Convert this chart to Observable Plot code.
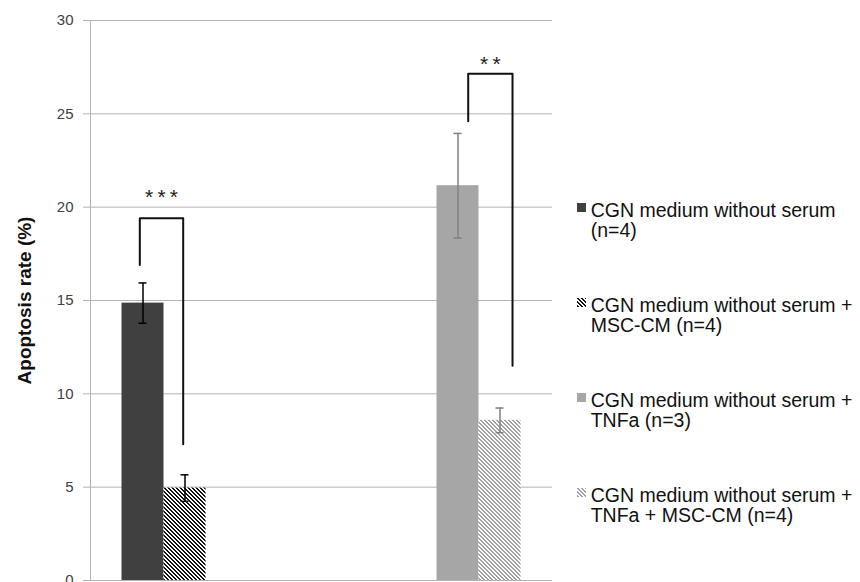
<!DOCTYPE html>
<html><head><meta charset="utf-8">
<script src="https://cdn.jsdelivr.net/npm/d3@7"></script>
<script src="https://cdn.jsdelivr.net/npm/@observablehq/plot@0.6"></script>
<style>
body{margin:0;background:#fff;}
#wrap{position:relative;width:860px;height:582px;overflow:hidden;font-family:"Liberation Sans",Arial,sans-serif;}
#chart{position:absolute;left:0;top:0;}
#legend{position:absolute;left:577px;top:200px;}
.item{position:relative;height:40px;margin-bottom:55px;padding-left:13.7px;font-size:19.5px;line-height:20px;color:#111;white-space:pre;}
.item svg{position:absolute;left:0;top:3px;}
</style></head><body>
<div id="wrap"><div id="chart"></div><div id="legend"></div></div>
<script>
// ---- data ----
const series = [
  "CGN medium without serum\n(n=4)",
  "CGN medium without serum +\nMSC-CM (n=4)",
  "CGN medium without serum +\nTNFa (n=3)",
  "CGN medium without serum +\nTNFa + MSC-CM (n=4)"
];
const groups = [0, 0, 1, 1];          // condition block each bar belongs to
const slots = [0, 1, 2, 3];           // series index within a block
const means = [14.86, 4.95, 21.15, 8.58];
const errors = [1.08, 0.71, 2.8, 0.66];
const yTicks = [0, 5, 10, 15, 20, 25, 30];
const yLabel = "Apoptosis rate (%)";
// significance brackets
const bracketGroup = [0, 1];
const bracketFrom = [0, 2];
const bracketTo = [1, 3];
const bracketTop = [19.4, 27.15];
const bracketLeftEnd = [16.9, 24.6];
const bracketRightEnd = [7.3, 11.5];
const starLabels = ["***", "**"];
const starLevel = [20.75, 27.9];

// ---- styles / layout ----
const fills = ["#404040", "url(#hatchDark)", "#a6a6a6", "url(#hatchLight)"];
const errColors = ["#000", "#000", "#808080", "#808080"];
const legNudge = [[-0.076, -0.043], [0.243, 0.298]]; // in bar widths
const pad = 31.5 / 231, bw = 42 / 231, cap = 4 / 231;

const rows = means.map((m, i) => ({series: series[i], g: groups[i], s: slots[i], mean: m, err: errors[i]}));
const X1 = d => d.g + pad + d.s * bw;
const XC = d => d.g + pad + (d.s + 0.5) * bw;

const brackets = bracketGroup.map((g, i) => {
  const lx = g + pad + (bracketFrom[i] + 0.5 + legNudge[i][0]) * bw;
  const rx = g + pad + (bracketTo[i] + 0.5 + legNudge[i][1]) * bw;
  return {i, lx, rx, top: bracketTop[i], le: bracketLeftEnd[i], re: bracketRightEnd[i],
          label: starLabels[i].split("").join("\u2009"), level: starLevel[i]};
});
const bracketPts = brackets.flatMap(b => [
  {b: b.i, x: b.lx, y: b.le}, {b: b.i, x: b.lx, y: b.top},
  {b: b.i, x: b.rx, y: b.top}, {b: b.i, x: b.rx, y: b.re}
]);

const grid = "#b3b3b3";
const chart = Plot.plot({
  width: 860, height: 600,
  marginLeft: 90, marginRight: 308, marginTop: 20, marginBottom: 20,
  style: {fontFamily: "'Liberation Sans', Arial, sans-serif", background: "transparent"},
  x: {domain: [0, 2], axis: null},
  y: {domain: [0, 30], axis: null},
  marks: [
    Plot.gridY(yTicks, {stroke: grid, strokeOpacity: 1}),
    Plot.axisY(yTicks, {tickSize: 7, tickPadding: 10, fontSize: 15, stroke: grid, fill: "#404040", label: null}),
    Plot.ruleX([0], {stroke: grid}),
    ...rows.map(r => Plot.rectY([r], {x1: X1, x2: d => X1(d) + bw, y: "mean", fill: fills[r.s]})),
    ...rows.map(r => Plot.ruleX([r], {x: XC, y1: d => d.mean - d.err, y2: d => d.mean + d.err, stroke: errColors[r.s], strokeWidth: 1.5})),
    ...rows.map(r => Plot.ruleY([r], {y: d => d.mean + d.err, x1: d => XC(d) - cap, x2: d => XC(d) + cap, stroke: errColors[r.s], strokeWidth: 1.5})),
    ...rows.map(r => Plot.ruleY([r], {y: d => d.mean - d.err, x1: d => XC(d) - cap, x2: d => XC(d) + cap, stroke: errColors[r.s], strokeWidth: 1.5})),
    Plot.line(bracketPts, {x: "x", y: "y", z: "b", stroke: "#111", strokeWidth: 2, curve: "linear"}),
    Plot.text(brackets, {x: d => (d.lx + d.rx) / 2, y: "level", text: "label", fontSize: 21, lineAnchor: "bottom", dy: 11, fill: "#222"}),
    Plot.text([yLabel], {frameAnchor: "left", dx: -60, rotate: -90, textAnchor: "middle", lineAnchor: "bottom", fontSize: 19, fontWeight: "bold", fill: "#111"})
  ]
});

const defs = d3.select(chart).insert("defs", ":first-child");
function hatch(id, color) {
  const p = defs.append("pattern").attr("id", id).attr("patternUnits", "userSpaceOnUse").attr("width", 4).attr("height", 4);
  p.append("rect").attr("width", 4).attr("height", 4).attr("fill", "#fff");
  for (let y = 0; y < 4; y++) for (let k = 0; k < 2; k++) {
    p.append("rect").attr("x", (y + k) % 4).attr("y", y).attr("width", 1).attr("height", 1)
      .attr("fill", color).attr("shape-rendering", "crispEdges");
  }
}
hatch("hatchDark", "#111");
hatch("hatchLight", "#a0a0a0");
document.getElementById("chart").appendChild(chart);

const legend = d3.select("#legend");
series.forEach((s, i) => {
  const item = legend.append("div").attr("class", "item").text(s);
  const sw = item.append("svg").attr("width", 9).attr("height", 9);
  sw.append("rect").attr("width", 9).attr("height", 9).attr("fill", fills[i]);
});
</script>
</body></html>
